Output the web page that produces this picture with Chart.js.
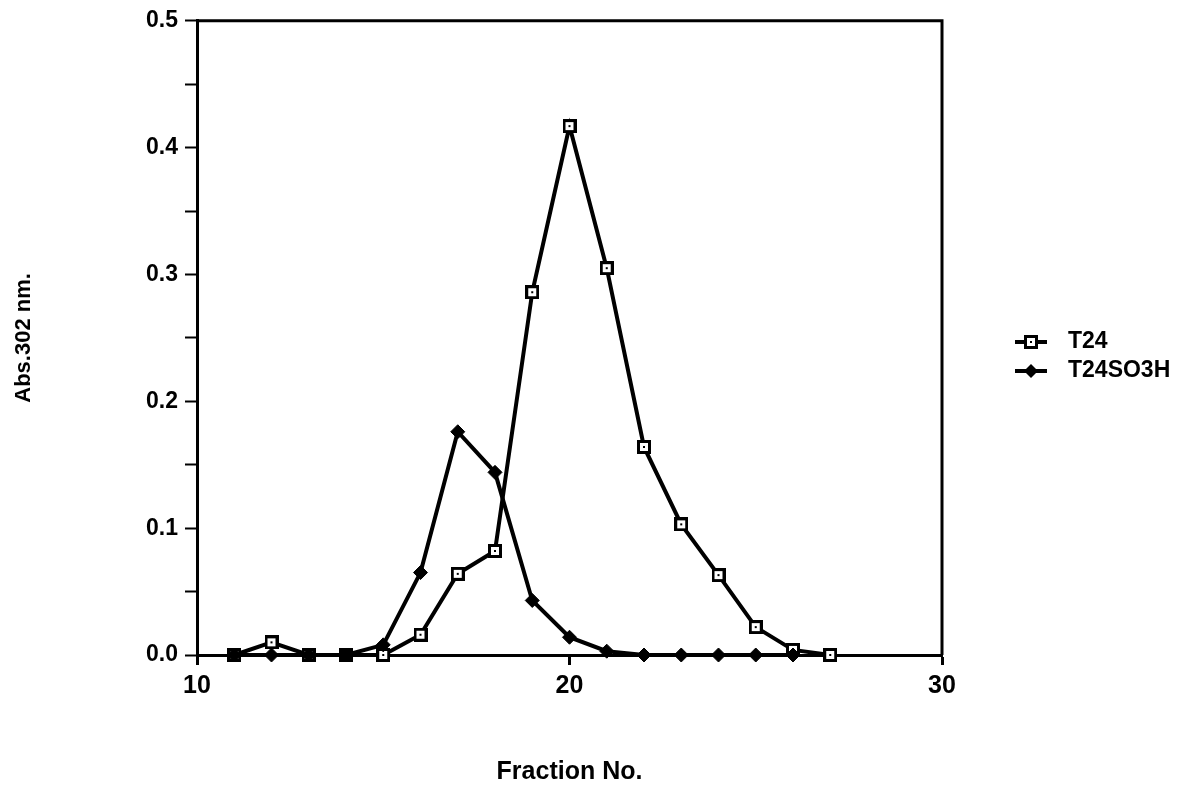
<!DOCTYPE html>
<html>
<head>
<meta charset="utf-8">
<script src="https://cdn.jsdelivr.net/npm/chart.js@4/dist/chart.umd.min.js"></script>
<style>
  html, body { margin: 0; padding: 0; background: #fff; }
  #wrap { width: 1182px; height: 791px; }
</style>
</head>
<body>
<div id="wrap"><canvas id="chart" width="1182" height="791"></canvas></div>
<script>
'use strict';

// Fraction numbers and absorbance readings (Abs. 302 nm)
const t24Fractions = [11, 12, 13, 14, 15, 16, 17, 18, 19, 20, 21, 22, 23, 24, 25, 26, 27];
const t24Values = [0, 0.01, 0, 0, 0, 0.016, 0.064, 0.082, 0.286, 0.417, 0.305, 0.164, 0.103, 0.063, 0.022, 0.004, 0];

const sulfoFractions = [11, 12, 13, 14, 15, 16, 17, 18, 19, 20, 21, 22, 23, 24, 25, 26];
const sulfoValues = [0, 0, 0, 0, 0.008, 0.065, 0.176, 0.144, 0.043, 0.014, 0.003, 0, 0, 0, 0, 0];

const seriesNames = ['T24', 'T24SO3H'];
const xTickValues = [10, 20, 30];
const yTickValues = [0, 0.1, 0.2, 0.3, 0.4, 0.5];

const FONT = "'Liberation Sans', Arial, Helvetica, sans-serif";

// open square with a little dot in the middle
function makeSquareDot(size) {
    const c = document.createElement('canvas');
    c.width = size;
    c.height = size;
    const g = c.getContext('2d');
    g.fillStyle = '#000';
    g.fillRect(0, 0, size, size);
    g.fillStyle = '#fff';
    g.fillRect(3, 3, size - 6, size - 6);
    g.fillStyle = '#000';
    g.fillRect(size / 2 - 1, size / 2 - 1, 2, 2);
    return c;
}
const squareDot = makeSquareDot(14);

function toPoints(xs, ys) {
    return xs.map((x, i) => ({ x: x, y: ys[i] }));
}

// top and right side of the frame
const framePlugin = {
    id: 'frame',
    afterDraw(chart) {
        const { ctx, chartArea: a } = chart;
        ctx.save();
        ctx.strokeStyle = '#000';
        ctx.lineWidth = 3;
        ctx.beginPath();
        ctx.moveTo(a.left, a.top);
        ctx.lineTo(a.right, a.top);
        ctx.lineTo(a.right, a.bottom);
        ctx.stroke();
        ctx.restore();
    }
};

// legend drawn to the right of the plot
const sideLegend = {
    id: 'sideLegend',
    afterDraw(chart) {
        const ctx = chart.ctx;
        const x0 = 1015, x1 = 1047, textX = 1068;
        const rows = [342, 371];
        ctx.save();
        chart.data.datasets.forEach((ds, i) => {
            const y = rows[i];
            ctx.strokeStyle = '#000';
            ctx.lineWidth = 4;
            ctx.beginPath();
            ctx.moveTo(x0, y);
            ctx.lineTo(x1, y);
            ctx.stroke();
            const mx = (x0 + x1) / 2;
            if (ds.pointStyle === squareDot) {
                ctx.drawImage(squareDot, mx - 7, y - 7);
            } else {
                ctx.fillStyle = '#000';
                ctx.beginPath();
                ctx.moveTo(mx, y - 7);
                ctx.lineTo(mx + 7, y);
                ctx.lineTo(mx, y + 7);
                ctx.lineTo(mx - 7, y);
                ctx.closePath();
                ctx.fill();
            }
            ctx.fillStyle = '#000';
            ctx.font = 'bold 23px ' + FONT;
            ctx.textBaseline = 'middle';
            ctx.textAlign = 'left';
            ctx.fillText(ds.label, textX, y);
        });
        ctx.restore();
    }
};

const chart = new Chart(document.getElementById('chart'), {
    type: 'line',
    data: {
        datasets: [
            {
                label: seriesNames[0],
                data: toPoints(t24Fractions, t24Values),
                borderColor: '#000',
                borderWidth: 4,
                pointStyle: squareDot,
                pointRadius: 7,
                tension: 0,
                clip: false,
                order: 2
            },
            {
                label: seriesNames[1],
                data: toPoints(sulfoFractions, sulfoValues),
                borderColor: '#000',
                backgroundColor: '#000',
                borderWidth: 4,
                pointStyle: 'rectRot',
                pointRadius: 7,
                pointBorderWidth: 1,
                pointBackgroundColor: '#000',
                pointBorderColor: '#000',
                tension: 0,
                clip: false,
                order: 1
            }
        ]
    },
    options: {
        responsive: false,
        animation: false,
        layout: { padding: { top: 20, right: 240, left: 0, bottom: 0 } },
        plugins: {
            legend: { display: false },
            tooltip: { enabled: false }
        },
        scales: {
            x: {
                type: 'linear',
                min: 10,
                max: 30,
                afterBuildTicks(scale) {
                    scale.ticks = xTickValues.map(v => ({ value: v }));
                },
                afterFit(scale) { scale.height = 136; },
                border: { display: true, color: '#000', width: 3 },
                grid: { drawOnChartArea: false, drawTicks: true, tickLength: 10, tickColor: '#000', tickWidth: 3 },
                ticks: {
                    color: '#000',
                    font: { family: FONT, size: 25, weight: 'bold' },
                    padding: 6,
                    maxRotation: 0,
                    callback: v => String(v)
                },
                title: {
                    display: true,
                    text: 'Fraction No.',
                    color: '#000',
                    font: { family: FONT, size: 25, weight: 'bold' },
                    padding: { top: 0, bottom: 4 }
                }
            },
            y: {
                min: 0,
                max: 0.5,
                afterBuildTicks(scale) {
                    const t = [];
                    yTickValues.forEach((v, i) => {
                        t.push({ value: v });
                        if (i < yTickValues.length - 1) t.push({ value: (v + yTickValues[i + 1]) / 2, minor: true });
                    });
                    scale.ticks = t;
                },
                afterFit(scale) { scale.width = 197; },
                border: { display: true, color: '#000', width: 3 },
                grid: { drawOnChartArea: false, drawTicks: true, tickLength: 12, tickColor: '#000', tickWidth: 2 },
                ticks: {
                    color: '#000',
                    font: { family: FONT, size: 23, weight: 'bold' },
                    padding: 7,
                    callback(v) {
                        return yTickValues.some(t => Math.abs(t - v) < 1e-9) ? v.toFixed(1) : '';
                    }
                },
                title: {
                    display: true,
                    text: 'Abs.302 nm.',
                    color: '#000',
                    font: { family: FONT, size: 22, weight: 'bold' },
                    padding: { top: 11, bottom: 0 }
                }
            }
        }
    },
    plugins: [framePlugin, sideLegend]
});
</script>
</body>
</html>
